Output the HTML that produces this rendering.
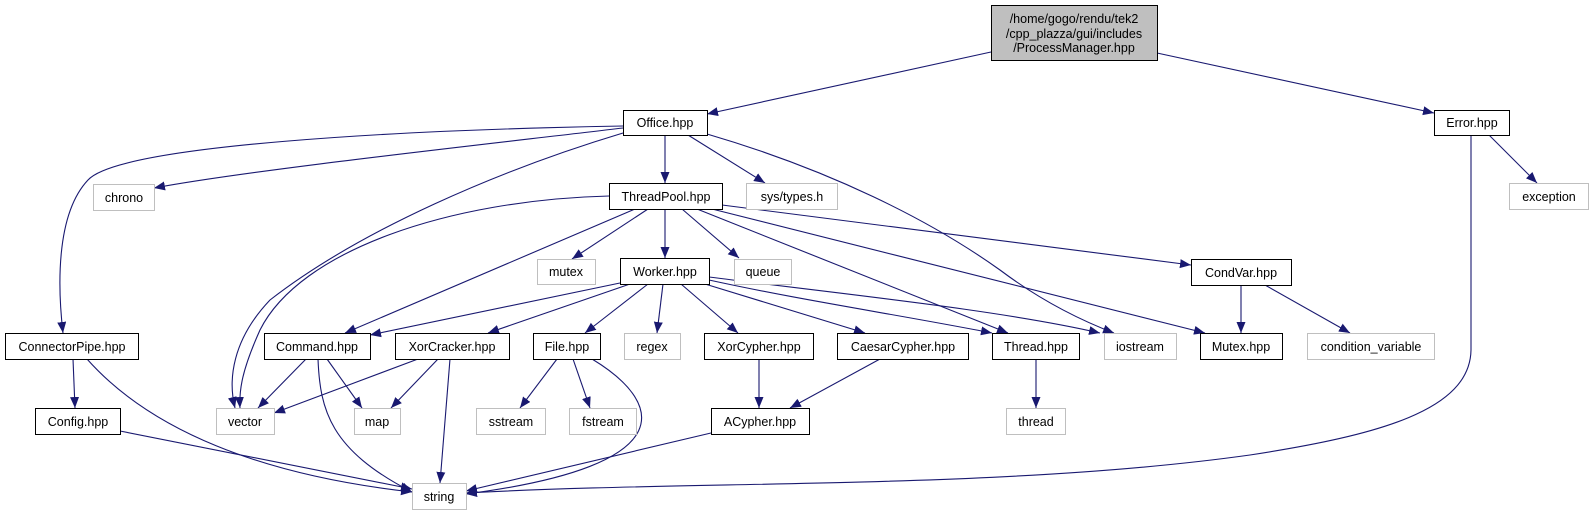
<!DOCTYPE html>
<html><head><meta charset="utf-8"><style>
html,body{margin:0;padding:0;background:#fff;width:1594px;height:515px;overflow:hidden}
svg text{font-family:"Liberation Sans",sans-serif;font-size:12.5px;fill:#000}
</style></head><body>
<svg width="1594" height="515" viewBox="0 0 1594 515" xmlns="http://www.w3.org/2000/svg">
<defs>
<marker id="a" markerUnits="userSpaceOnUse" markerWidth="12" markerHeight="10" refX="11" refY="4.5" orient="auto">
<path d="M0,0 L11,4.5 L0,9 Z" fill="#191970"/>
</marker>
</defs>
<g fill="none" stroke="#191970" stroke-width="1.1" marker-end="url(#a)">
<path d="M991,52 L707,114"/>
<path d="M1157,53 L1434,113"/>
<path d="M623,126 C400,130 120,145 88,180 C55,215 58,290 63,333"/>
<path d="M623,128 C480,145 250,170 154,188"/>
<path d="M623,133 C500,170 360,230 270,300 C232,340 228,380 235,408"/>
<path d="M665,135 L665,183"/>
<path d="M688,135 L765,183"/>
<path d="M707,134 C830,170 930,220 1000,270 C1040,300 1080,320 1114,333"/>
<path d="M1471,135 L1471,350 C1470,410 1380,435 1250,455 C1000,490 700,480 466,493"/>
<path d="M1489,135 L1537,183"/>
<path d="M609,196 C450,200 300,250 260,330 C242,370 239,390 240,408"/>
<path d="M648,209 L572,259"/>
<path d="M635,209 L345,333"/>
<path d="M665,209 L665,258"/>
<path d="M682,209 L739,258"/>
<path d="M722,205 L1191,265"/>
<path d="M712,209 L1205,333"/>
<path d="M697,209 L1008,333"/>
<path d="M1241,285 L1241,333"/>
<path d="M1265,285 L1350,333"/>
<path d="M620,283 L370,335"/>
<path d="M630,284 L488,333"/>
<path d="M648,284 L585,333"/>
<path d="M663,284 L657,333"/>
<path d="M681,284 L738,333"/>
<path d="M705,284 L865,333"/>
<path d="M709,280 C800,300 900,315 992,333"/>
<path d="M709,277 C850,295 1000,310 1100,333"/>
<path d="M306,359 L258,408"/>
<path d="M327,359 L362,408"/>
<path d="M318,359 C320,410 330,450 412,492"/>
<path d="M418,359 L274,413"/>
<path d="M438,359 L391,408"/>
<path d="M450,359 L440,483"/>
<path d="M557,359 L520,408"/>
<path d="M573,359 L590,408"/>
<path d="M592,359 C660,400 690,465 466,494"/>
<path d="M759,359 L759,408"/>
<path d="M880,359 L790,408"/>
<path d="M711,433 L466,491"/>
<path d="M73,359 L75,408"/>
<path d="M87,359 C150,430 260,475 412,492"/>
<path d="M120,431 L412,489"/>
<path d="M1036,359 L1036,408"/>
</g>
<g stroke-width="1">
<rect x="991.5" y="5.5" width="166" height="55" fill="#bfbfbf" stroke="#000"/>
<g fill="#fff" stroke="#000">
<rect x="623.5" y="110.5" width="84" height="25"/>
<rect x="1434.5" y="110.5" width="75" height="25"/>
<rect x="609.5" y="183.5" width="113" height="26"/>
<rect x="620.5" y="258.5" width="89" height="26"/>
<rect x="1191.5" y="259.5" width="100" height="26"/>
<rect x="5.5" y="333.5" width="133" height="26"/>
<rect x="264.5" y="333.5" width="106" height="26"/>
<rect x="395.5" y="333.5" width="114" height="26"/>
<rect x="533.5" y="333.5" width="67" height="26"/>
<rect x="704.5" y="333.5" width="109" height="26"/>
<rect x="837.5" y="333.5" width="131" height="26"/>
<rect x="992.5" y="333.5" width="87" height="26"/>
<rect x="1200.5" y="333.5" width="82" height="26"/>
<rect x="35.5" y="408.5" width="85" height="26"/>
<rect x="711.5" y="408.5" width="98" height="26"/>
</g>
<g fill="#fff" stroke="#bfbfbf">
<rect x="93.5" y="184.5" width="61" height="26"/>
<rect x="746.5" y="183.5" width="91" height="26"/>
<rect x="1509.5" y="183.5" width="79" height="26"/>
<rect x="537.5" y="259.5" width="58" height="25"/>
<rect x="734.5" y="259.5" width="57" height="25"/>
<rect x="624.5" y="333.5" width="56" height="26"/>
<rect x="1104.5" y="333.5" width="72" height="26"/>
<rect x="1307.5" y="333.5" width="127" height="26"/>
<rect x="216.5" y="408.5" width="58" height="26"/>
<rect x="354.5" y="408.5" width="46" height="26"/>
<rect x="476.5" y="408.5" width="69" height="26"/>
<rect x="569.5" y="408.5" width="67" height="26"/>
<rect x="1006.5" y="408.5" width="59" height="26"/>
<rect x="412.5" y="483.5" width="54" height="26"/>
</g>
</g>
<g text-anchor="middle">
<text x="1074" y="23">/home/gogo/rendu/tek2</text>
<text x="1074" y="38">/cpp_plazza/gui/includes</text>
<text x="1074" y="52">/ProcessManager.hpp</text>
<text x="665" y="127">Office.hpp</text>
<text x="1472" y="127">Error.hpp</text>
<text x="124" y="202">chrono</text>
<text x="666" y="201">ThreadPool.hpp</text>
<text x="792" y="201">sys/types.h</text>
<text x="1549" y="201">exception</text>
<text x="566" y="276">mutex</text>
<text x="665" y="276">Worker.hpp</text>
<text x="763" y="276">queue</text>
<text x="1241" y="277">CondVar.hpp</text>
<text x="72" y="351">ConnectorPipe.hpp</text>
<text x="317" y="351">Command.hpp</text>
<text x="452" y="351">XorCracker.hpp</text>
<text x="567" y="351">File.hpp</text>
<text x="652" y="351">regex</text>
<text x="759" y="351">XorCypher.hpp</text>
<text x="903" y="351">CaesarCypher.hpp</text>
<text x="1036" y="351">Thread.hpp</text>
<text x="1140" y="351">iostream</text>
<text x="1241" y="351">Mutex.hpp</text>
<text x="1371" y="351">condition_variable</text>
<text x="78" y="426">Config.hpp</text>
<text x="245" y="426">vector</text>
<text x="377" y="426">map</text>
<text x="511" y="426">sstream</text>
<text x="603" y="426">fstream</text>
<text x="760" y="426">ACypher.hpp</text>
<text x="1036" y="426">thread</text>
<text x="439" y="501">string</text>
</g>
</svg>
</body></html>
